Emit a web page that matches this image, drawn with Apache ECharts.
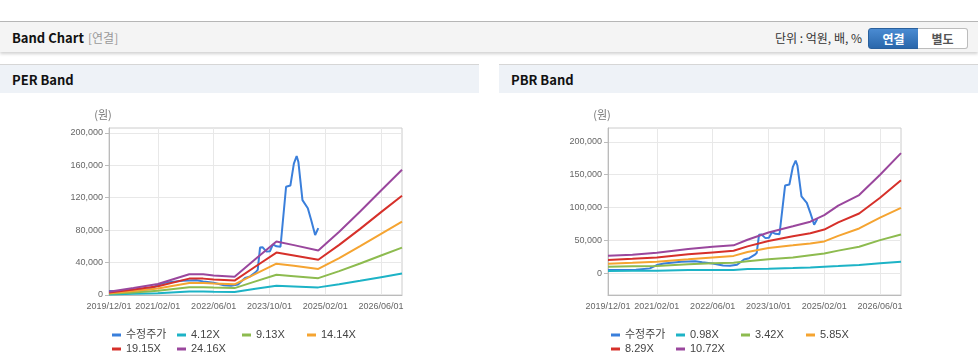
<!DOCTYPE html>
<html>
<head>
<meta charset="utf-8">
<script src="https://cdn.jsdelivr.net/npm/echarts@6/dist/echarts.min.js"></script>
<style>
  html, body { margin:0; padding:0; background:#fff; width:978px; height:364px; overflow:hidden; }
  .abs { position:absolute; }
  #topline { left:0; top:21px; width:978px; height:1px; background:#b8b8b8; }
  #hdr { left:0; top:22px; width:978px; height:30px; background:#f4f4f4; box-shadow:0 2px 3px rgba(0,0,0,0.18); }
  .kr { font-family:"Noto Sans CJK KR","Noto Sans",sans-serif; }
  #ttl { left:12px; top:23px; line-height:30px; font-size:13px; font-weight:bold; color:#111; }
  #ttl2 { left:88px; top:23px; line-height:30px; font-size:12px; color:#999; }
  #unit { right:116px; top:23px; line-height:30px; font-size:12px; color:#333; }
  .btn { top:28px; height:19px; width:49px; line-height:19px; font-size:12px; font-weight:bold; text-align:center; }
  #b1 { left:868px; background:linear-gradient(#4a8bd2,#2a67ab); border:1px solid #2a609c; border-radius:3px 0 0 3px; color:#fff; }
  #b2 { left:918px; background:#fff; border:1px solid #bcbcbc; border-left:none; border-radius:0 3px 3px 0; color:#555; }
  .ph { top:64px; height:28px; width:479px; background:#eef2f7; border-top:1px solid #d6d6d6; }
  .pt { top:65px; line-height:29px; font-size:13px; font-weight:bold; color:#111; }
  #chart { left:0; top:0; width:978px; height:364px; }
</style>
</head>
<body>
<div id="topline" class="abs"></div>
<div id="hdr" class="abs"></div>
<div id="ttl" class="abs kr">Band Chart</div>
<div id="ttl2" class="abs kr">[연결]</div>
<div id="unit" class="abs kr">단위 : 억원, 배, %</div>
<div id="b1" class="abs btn kr">연결</div>
<div id="b2" class="abs btn kr">별도</div>
<div class="abs ph" style="left:0"></div>
<div class="abs ph" style="left:499px"></div>
<div class="abs pt kr" style="left:12px">PER Band</div>
<div class="abs pt kr" style="left:511px">PBR Band</div>
<div id="chart" class="abs"></div>
<script>
// ---------- data ----------
const axisStart = '2019/12/01';
const axisEnd = '2026/12/01';
const xTickDates = ['2019/12/01','2021/02/01','2022/06/01','2023/10/01','2025/02/01','2026/06/01'];
const perTicks = [0, 40000, 80000, 120000, 160000, 200000];
const pbrTicks = [0, 50000, 100000, 150000, 200000];

const perNames = ['수정주가','4.12X','9.13X','14.14X','19.15X','24.16X'];
const pbrNames = ['수정주가','0.98X','3.42X','5.85X','8.29X','10.72X'];

const priceDates = ['2019/12/01','2020/04/01','2020/08/01','2020/12/01','2021/02/01','2021/04/01','2021/09/01',
  '2022/01/01','2022/03/01','2022/06/01','2022/09/01','2022/11/01','2023/01/01','2023/03/01','2023/04/15',
  '2023/06/01','2023/06/20','2023/07/10','2023/08/01','2023/09/05','2023/10/05','2023/11/01','2023/12/01',
  '2024/01/06','2024/02/24','2024/04/01','2024/05/01','2024/05/25','2024/06/10','2024/07/15','2024/09/01',
  '2024/10/01','2024/11/04','2024/12/01'];
const priceValues = [5000,5000,5500,7500,12500,15000,17500,
  18200,16800,15000,12000,11500,13000,21000,23000,
  28000,31000,58500,59000,53500,54000,62500,60000,
  59500,133500,135000,162000,171500,164000,117000,107000,
  92000,74000,82500];

const perDates = ['2019/12/01','2020/07/01','2021/02/01','2021/11/01','2022/03/01','2022/06/01','2022/12/01',
  '2023/06/01','2023/12/01','2024/05/01','2024/12/01','2025/06/01','2025/12/01','2026/06/01','2026/12/01'];
const per412  = [700,1500,2300,4300,4300,4100,3800,7600,11300,10500,9400,13300,17600,22000,26400];
const per913  = [1500,3200,5100,9600,9600,9100,8500,16800,24900,23200,20800,29500,38900,48700,58400];
const per1414 = [2300,5000,7900,14900,14900,14200,13200,26000,38600,36000,32200,45600,60300,75500,90400];
const per1915 = [3200,6700,10700,20200,20200,19200,17800,35200,52300,48700,43500,61800,81600,102200,122400];
const per2416 = [4000,8500,13500,25500,25500,24200,22500,44500,66000,61500,55000,78000,103000,129000,154500];

const pbrDates = ['2019/12/01','2020/07/01','2021/02/01','2021/11/01','2022/06/01','2022/12/01','2023/04/01',
  '2023/10/01','2024/05/01','2024/10/01','2025/02/01','2025/06/01','2025/12/01','2026/06/01','2026/12/01'];
const pbr098  = [3500,3700,4000,5000,5000,5200,6600,7000,8000,9000,10100,11000,12600,15200,17700];
const pbr342  = [10100,10600,11100,13600,15200,16000,18200,21200,24200,27500,30000,34500,40400,50500,59100];
const pbr585  = [14600,16000,17700,21200,24200,26500,32500,38500,42500,45500,48500,57000,68200,84800,99500];
const pbr829  = [20200,22000,24200,28800,31800,34300,41000,49000,56500,61000,66500,77500,91000,115000,141400];
const pbr1072 = [26800,28300,31300,36900,40400,42500,51000,62000,71500,78500,88400,103000,119000,150000,182800];

const colors = ['#3a7fdb','#1db3c6','#8dbb4f','#f5a431','#d6302a','#9a479d'];

// ---------- helpers ----------
function monthIndex(s) {
  const p = s.split('/').map(Number);
  return (p[0] - 2019) * 12 + (p[1] - 12) + (p[2] - 1) / 30;
}
function idxToDate(i) {
  const t = 11 + Math.round(i);
  const y = 2019 + Math.floor(t / 12);
  const m = (t % 12) + 1;
  return y + '/' + (m < 10 ? '0' + m : m) + '/01';
}
function pairs(dates, vals) { return dates.map((d, k) => [monthIndex(d), vals[k]]); }
const xMin = monthIndex(axisStart), xMax = monthIndex(axisEnd);
const xTicks = xTickDates.map(monthIndex);
const fmt = v => Math.round(v).toLocaleString('en-US');
const FONT = '"Liberation Sans", Arial, sans-serif';
const LFONT = '"Liberation Sans", "Noto Sans CJK KR", sans-serif';

function xAxisCfg(gi) {
  return {
    type:'value', gridIndex:gi, min:xMin, max:xMax,
    axisLine:{show:true, onZero:false, lineStyle:{color:'#bbb'}},
    axisTick:{show:false, customValues:xTicks},
    axisLabel:{customValues:xTicks, color:'#666', fontSize:9, fontFamily:FONT, margin:7, formatter:v => idxToDate(v)},
    splitLine:{show:true, lineStyle:{color:'#e8e8e8'}}
  };
}
function yAxisCfg(gi, min, max, ticks) {
  return {
    type:'value', gridIndex:gi, min:min, max:max,
    name:'(원)', nameLocation:'end', nameGap:8,
    nameTextStyle:{color:'#777', fontSize:11, fontFamily:'"Noto Sans CJK KR", sans-serif', padding:[0,12,0,0]},
    axisLine:{show:true, lineStyle:{color:'#bbb'}},
    axisTick:{show:true, length:4, lineStyle:{color:'#bbb'}, customValues:ticks},
    axisLabel:{customValues:ticks, color:'#666', fontSize:9, fontFamily:FONT, margin:6, formatter:fmt},
    splitLine:{show:true, lineStyle:{color:'#e8e8e8'}}
  };
}
function line(name, data, c, gi) {
  return { type:'line', name:name, xAxisIndex:gi, yAxisIndex:gi, data:data, color:c,
    showSymbol:false, symbol:'none', lineStyle:{width:2, color:c}, animation:false };
}
function legendCfg(left, names) {
  return { left:left, top:324, width:262, orient:'horizontal', data:names, icon:'rect',
    itemWidth:9, itemHeight:3, itemGap:2,
    textStyle:{fontSize:11, color:'#444', fontFamily:LFONT, width:49, lineHeight:12, overflow:'truncate'} };
}

const perBands = [per412, per913, per1414, per1915, per2416];
const pbrBands = [pbr098, pbr342, pbr585, pbr829, pbr1072];
const series = [];
series.push(line(perNames[0], pairs(priceDates, priceValues), colors[0], 0));
perBands.forEach((b, k) => series.push(line(perNames[k+1], pairs(perDates, b), colors[k+1], 0)));
series.push(line(pbrNames[0], pairs(priceDates, priceValues), colors[0], 1));
pbrBands.forEach((b, k) => series.push(line(pbrNames[k+1], pairs(pbrDates, b), colors[k+1], 1)));

const chart = echarts.init(document.getElementById('chart'));
chart.setOption({
  animation:false,
  grid:[
    {left:109, top:128, width:293, height:167, show:true, borderColor:'#ccc', borderWidth:1, containLabel:false},
    {left:608, top:128, width:293, height:167, show:true, borderColor:'#ccc', borderWidth:1, containLabel:false}
  ],
  xAxis:[xAxisCfg(0), xAxisCfg(1)],
  yAxis:[yAxisCfg(0, 0, 206000, perTicks), yAxisCfg(1, -33000, 221000, pbrTicks)],
  legend:[legendCfg(107, perNames), legendCfg(606, pbrNames)],
  series:series
});
</script>
</body>
</html>
